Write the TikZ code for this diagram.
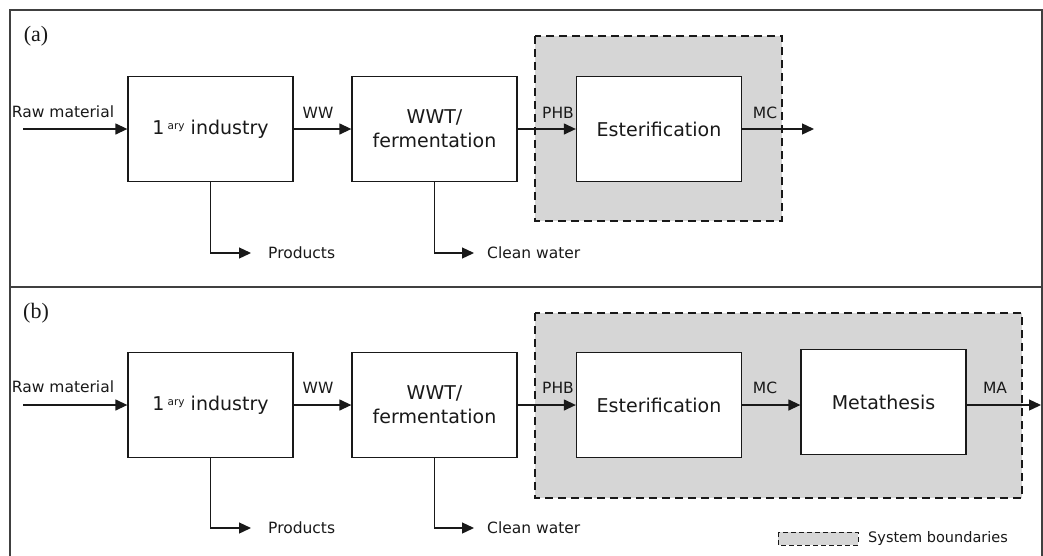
\documentclass[tikz,border=0pt]{standalone}
\usepackage{fontspec}
\setmainfont{DejaVu Sans}
\newfontfamily\panelfont{Liberation Serif}
\usetikzlibrary{arrows.meta}
\definecolor{sysgray}{RGB}{214,214,214}
\definecolor{ink}{RGB}{25,25,25}
\newcommand{\aryind}{1\,{\fontsize{10.5}{10}\selectfont\raisebox{0.8ex}{ary}} industry}

\begin{document}
\begin{tikzpicture}[x=1pt,y=-1pt,
  proc/.style={draw=ink, line width=1.3pt, fill=white, minimum width=165pt,
    minimum height=105pt, inner sep=0pt, align=center, text=ink,
    font=\fontsize{19}{24}\selectfont},
  flow/.style={draw=ink, line width=1.3pt, -{Triangle[length=12pt,width=11pt]}},
  lbl/.style={font=\fontsize{15.5}{18}\selectfont, text=ink, inner sep=0pt},
  boundary/.style={draw=ink, dash pattern=on 8pt off 5pt, line width=1.3pt, fill=sysgray},
  frame/.style={draw=black!75, line width=1.8pt},
  panel/.style={font=\panelfont\fontsize{22}{24}\selectfont, text=ink, inner sep=0pt},
]
\useasboundingbox (0,0) rectangle (1043,555);
\fill[white] (0,0) rectangle (1043,555);

% outer frames of the two panels
\draw[frame] (10,10) rectangle (1042,287);
\draw[frame] (10,287) rectangle (1042,557);

% ---------- panel (a) ----------
\node[panel] (pa) at (36,36) {(a)};
\draw[boundary] (535,36) rectangle (782,221);

\node[proc] (a1) at (210.5,129) {\aryind};
\node[proc] (a2) at (434.5,129) {WWT/\\fermentation};
\node[proc] (a3) at (659,129) {Esterification};

\coordinate (araw) at (23,129);
\coordinate (aout) at (814,129);
\coordinate (aprod) at (251,253);
\coordinate (awat) at (474,253);

\draw[flow] (araw) -- (a1);
\draw[flow] (a1) -- (a2);
\draw[flow] (a2) -- (a3);
\draw[flow] (a3) -- (aout);
\draw[flow] (a1.south) |- (aprod);
\draw[flow] (a2.south) |- (awat);

\node[lbl] (arawl) at (63,112) {Raw material};
\node[lbl] (awwl) at (318,113) {WW};
\node[lbl] (aphbl) at (558,113) {PHB};
\node[lbl] (amcl) at (765,113) {MC};
\node[lbl, anchor=west] (aprodl) at (268,253) {Products};
\node[lbl, anchor=west] (awatl) at (487,253) {Clean water};

% ---------- panel (b) ----------
\node[panel] (pb) at (36,313) {(b)};
\draw[boundary] (535,313) rectangle (1022,498);

\node[proc] (b1) at (210.5,405) {\aryind};
\node[proc] (b2) at (434.5,405) {WWT/\\fermentation};
\node[proc] (b3) at (659,405) {Esterification};
\node[proc] (b4) at (883.5,402) {Metathesis};

\coordinate (braw) at (23,405);
\coordinate (bout) at (1041,405);
\coordinate (bprod) at (251,528);
\coordinate (bwat) at (474,528);

\draw[flow] (braw) -- (b1);
\draw[flow] (b1) -- (b2);
\draw[flow] (b2) -- (b3);
\draw[flow] (b3) -- (b3 -| b4.west);
\draw[flow] (b4.east |- bout) -- (bout);
\draw[flow] (b1.south) |- (bprod);
\draw[flow] (b2.south) |- (bwat);

\node[lbl] (brawl) at (63,387) {Raw material};
\node[lbl] (bwwl) at (318,388) {WW};
\node[lbl] (bphbl) at (558,388) {PHB};
\node[lbl] (bmcl) at (765,388) {MC};
\node[lbl] (bmal) at (995,388) {MA};
\node[lbl, anchor=west] (bprodl) at (268,528) {Products};
\node[lbl, anchor=west] (bwatl) at (487,528) {Clean water};

% legend
\draw[draw=ink, fill=sysgray, dash pattern=on 5pt off 3pt, line width=1pt] (778,532) rectangle (858,545);
\node[lbl, anchor=west, font=\fontsize{14.5}{17}\selectfont] (legl) at (868,538.5) {System boundaries};
\end{tikzpicture}
\end{document}
